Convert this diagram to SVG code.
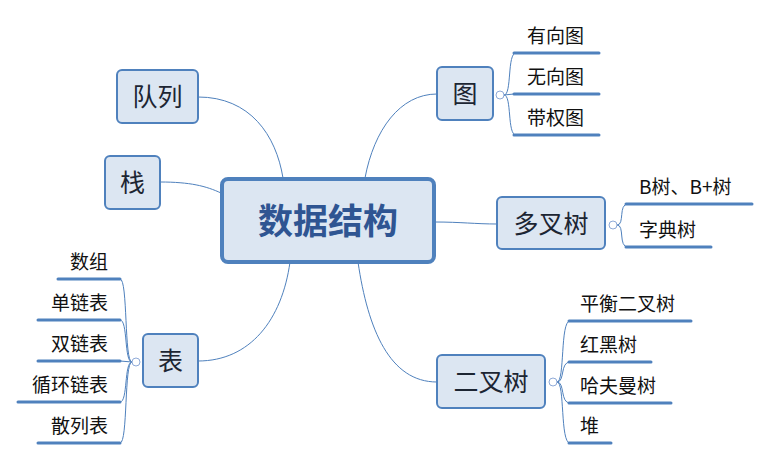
<svg xmlns="http://www.w3.org/2000/svg" width="770" height="461" viewBox="0 0 770 461">
<style>
.bg{fill:#ffffff}
.node{fill:#dce6f2;stroke:#4f81bd;stroke-width:2}
.center{fill:#dce6f2;stroke:#4f81bd;stroke-width:4}
.ntext{font-family:"Noto Sans CJK SC","Noto Sans",sans-serif;font-size:25px;fill:#1c2533;text-anchor:middle}
.ctext{font-family:"Noto Sans CJK SC","Noto Sans",sans-serif;font-size:35px;font-weight:bold;fill:#2f5592;text-anchor:middle}
.ltext{font-family:"Noto Sans CJK SC","Noto Sans",sans-serif;font-size:19px;fill:#111111}
.rt{text-anchor:end}
.conn{fill:none;stroke:#4f81bd;stroke-width:1}
.ul{stroke:#4f81bd;stroke-width:3;stroke-linecap:round}
.toggle{fill:#ffffff;stroke:#8faad8;stroke-width:1}
</style>
<rect class="bg" x="0" y="0" width="770" height="461"/>
<g id="connectors">
<path class="conn" d="M198,97 C250,97 276,135 283,178"/>
<path class="conn" d="M160,182 C190,182 206,186 221,193"/>
<path class="conn" d="M437,94 C400,94 374,130 365,178"/>
<path class="conn" d="M435,222 C460,222 476,224 497,224"/>
<path class="conn" d="M198,361 C250,361 282,320 290,262"/>
<path class="conn" d="M437,382 C390,382 368,330 358,262"/>
<path class="conn" d="M504,95 C512,95 507,53 516,53"/>
<path class="conn" d="M504,95 L514,94"/>
<path class="conn" d="M504,95 C512,95 507,135 516,135"/>
<path class="conn" d="M617,225 C625,225 618,204 628,204"/>
<path class="conn" d="M617,225 C625,225 618,247 628,247"/>
<path class="conn" d="M132,362 C124,362 128,279 120,279"/>
<path class="conn" d="M132,362 C124,362 128,320 120,320"/>
<path class="conn" d="M132,362 L120,361"/>
<path class="conn" d="M132,362 C124,362 128,402 120,402"/>
<path class="conn" d="M132,362 C124,362 128,443 120,443"/>
<path class="conn" d="M557,382 C565,382 560,321 570,321"/>
<path class="conn" d="M557,382 C565,382 560,362 570,362"/>
<path class="conn" d="M557,382 C565,382 560,403 570,403"/>
<path class="conn" d="M557,382 C565,382 560,443 570,443"/>
</g>
<g id="center">
<rect class="center" x="222" y="179" width="212" height="83" rx="6"/>
<text class="ctext" x="328" y="234">数据结构</text>
</g>
<g id="queue">
<rect class="node" x="117" y="70" width="81" height="53" rx="5"/>
<text class="ntext" x="157.5" y="106">队列</text>
</g>
<g id="stack">
<rect class="node" x="105" y="156" width="55" height="53" rx="5"/>
<text class="ntext" x="132.5" y="192">栈</text>
</g>
<g id="graph">
<rect class="node" x="437" y="67" width="56" height="53" rx="5"/>
<text class="ntext" x="465" y="103">图</text>
<circle class="toggle" cx="500" cy="95" r="4"/>
<line class="ul" x1="514" y1="53" x2="599" y2="53"/>
<text class="ltext" x="527" y="43">有向图</text>
<line class="ul" x1="514" y1="94" x2="599" y2="94"/>
<text class="ltext" x="527" y="84">无向图</text>
<line class="ul" x1="514" y1="135" x2="599" y2="135"/>
<text class="ltext" x="527" y="125">带权图</text>
</g>
<g id="multitree">
<rect class="node" x="497" y="197" width="108" height="52" rx="5"/>
<text class="ntext" x="551" y="233">多叉树</text>
<circle class="toggle" cx="613" cy="225" r="4"/>
<line class="ul" x1="626" y1="204" x2="752" y2="204"/>
<text class="ltext" x="639" y="194">B树、B+树</text>
<line class="ul" x1="626" y1="247" x2="711" y2="247"/>
<text class="ltext" x="639" y="237">字典树</text>
</g>
<g id="table">
<rect class="node" x="143" y="334" width="55" height="53" rx="5"/>
<text class="ntext" x="170.5" y="370">表</text>
<circle class="toggle" cx="136" cy="362" r="4"/>
<line class="ul" x1="58" y1="279" x2="120" y2="279"/>
<text class="ltext rt" x="108" y="269">数组</text>
<line class="ul" x1="38" y1="320" x2="120" y2="320"/>
<text class="ltext rt" x="108" y="310">单链表</text>
<line class="ul" x1="38" y1="361" x2="120" y2="361"/>
<text class="ltext rt" x="108" y="351">双链表</text>
<line class="ul" x1="18" y1="402" x2="120" y2="402"/>
<text class="ltext rt" x="108" y="392">循环链表</text>
<line class="ul" x1="38" y1="443" x2="120" y2="443"/>
<text class="ltext rt" x="108" y="433">散列表</text>
</g>
<g id="bintree">
<rect class="node" x="437" y="355" width="108" height="53" rx="5"/>
<text class="ntext" x="491" y="391">二叉树</text>
<circle class="toggle" cx="553" cy="382" r="4"/>
<line class="ul" x1="569" y1="321" x2="691" y2="321"/>
<text class="ltext" x="580" y="311">平衡二叉树</text>
<line class="ul" x1="569" y1="362" x2="651" y2="362"/>
<text class="ltext" x="580" y="352">红黑树</text>
<line class="ul" x1="569" y1="403" x2="671" y2="403"/>
<text class="ltext" x="580" y="393">哈夫曼树</text>
<line class="ul" x1="569" y1="443" x2="611" y2="443"/>
<text class="ltext" x="580" y="433">堆</text>
</g>
</svg>
